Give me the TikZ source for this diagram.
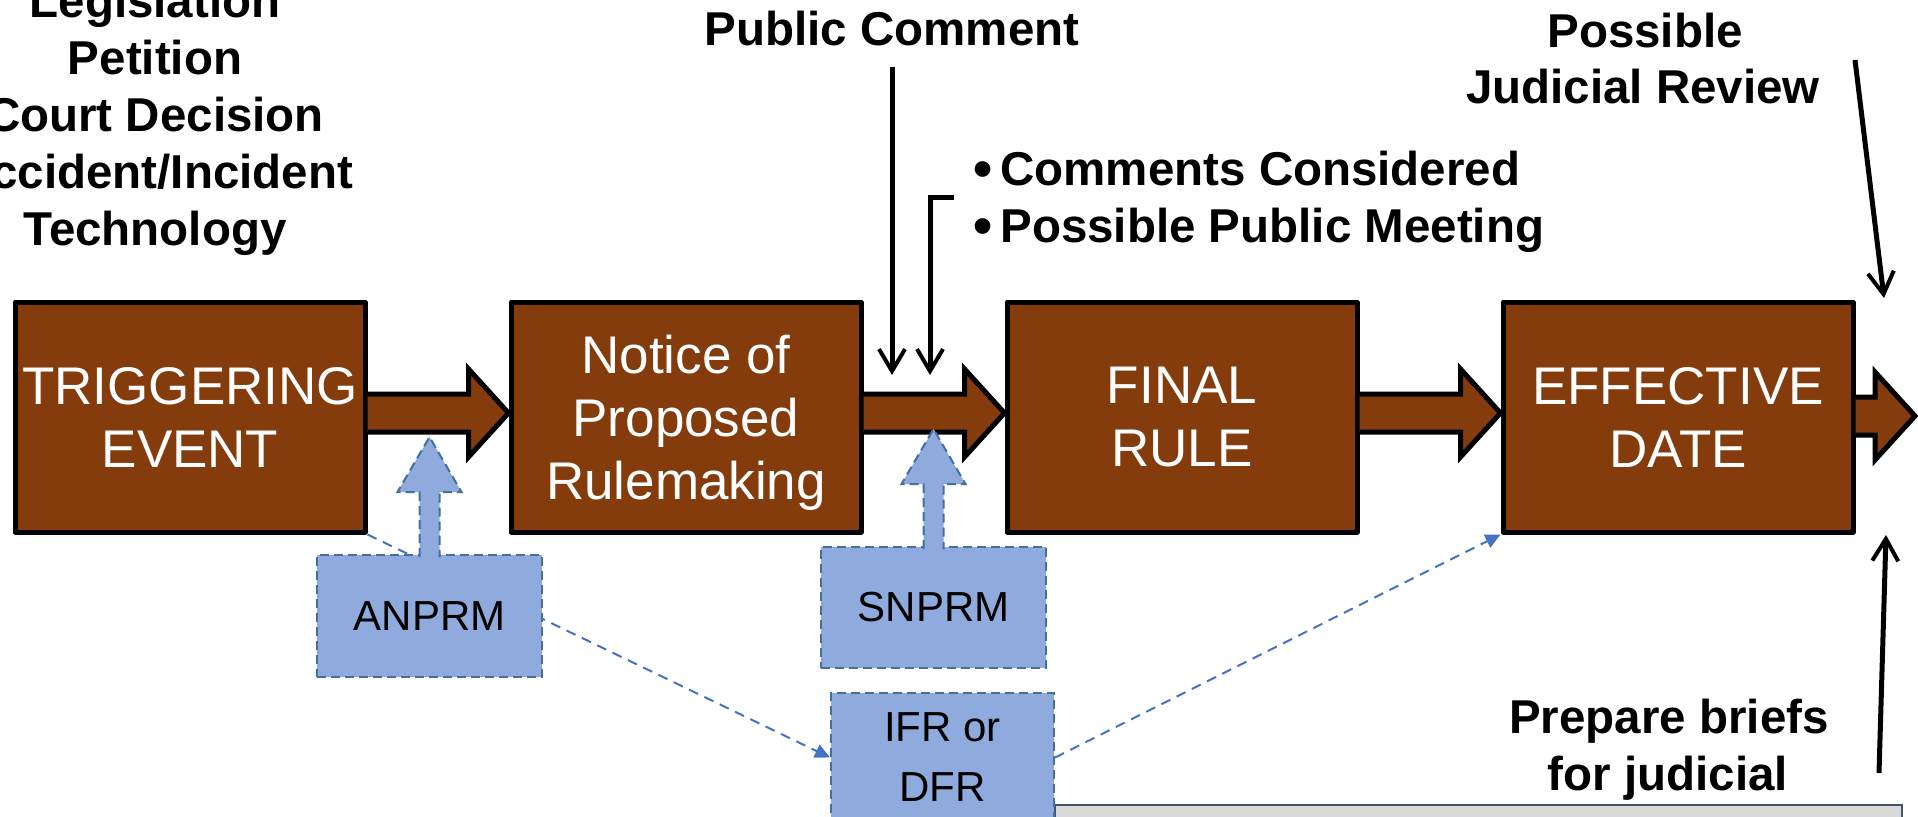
\documentclass[tikz,border=0pt]{standalone}
\usepackage{fontspec}
\setmainfont{Liberation Sans}
\usetikzlibrary{calc,arrows.meta}
\definecolor{brn}{HTML}{843C0C}
\definecolor{bfill}{HTML}{8FAADC}
\definecolor{bline}{HTML}{41719C}
\definecolor{dline}{HTML}{4472C4}
\definecolor{gfill}{HTML}{D9D9D9}
\definecolor{gline}{HTML}{44546A}
\newcommand\brarrow[3]{\draw[blockarrow] ($(#1.east)+(0,#3-19)$) -- ($(#2)+(-40,#3-19)$) -- ($(#2)+(-40,#3-44)$) -- ($(#2)+(0,#3)$) -- ($(#2)+(-40,#3+44)$) -- ($(#2)+(-40,#3+19)$) -- ($(#1.east)+(0,#3+19)$);}
\newcommand\upblue[1]{\draw[bluearrow] ($(#1.north)+(-10,3)$) -- ($(#1.north)+(-10,-62)$) -- ($(#1.north)+(-32,-62)$) -- ($(#1.north)+(0,-117)$) -- ($(#1.north)+(32,-62)$) -- ($(#1.north)+(10,-62)$) -- ($(#1.north)+(10,3)$);}
\begin{document}
\begin{tikzpicture}[x=0.5pt,y=-0.5pt,
 brownbox/.style={draw=black, line width=2.5pt, fill=brn, text=white, minimum width=175pt, minimum height=115pt, inner sep=0pt, align=center, font=\fontsize{26.5}{31.5}\selectfont, line join=round},
 blockarrow/.style={draw=black, line width=2.5pt, fill=brn, line join=miter},
 bluebox/.style={draw=bline, line width=1pt, dash pattern=on 4.5pt off 2.5pt, fill=bfill, inner sep=0pt, align=center, font=\fontsize{21}{30}\selectfont},
 bluearrow/.style={draw=bline, line width=1pt, dash pattern=on 4.5pt off 2.5pt, fill=bfill},
 txt/.style={font=\bfseries\fontsize{23.75}{28.5}\selectfont, inner sep=0pt, anchor=base},
 dconn/.style={draw=dline, line width=1pt, dash pattern=on 5pt off 3.5pt, -{Triangle[length=7.5pt,width=7pt]}},
 kconn/.style={draw=black, line width=2.5pt, -{Straight Barb[length=11pt,width=13pt,line width=2pt]}},
]
\useasboundingbox (0,0) rectangle (1918,816);
\clip (0,0) rectangle (1918,816);
% bottom grey bar
\path[draw=gline, fill=gfill, line width=1pt] (1055,805) rectangle (1902,840);
% main boxes
\node[brownbox] (trig) at (190,417) {TRIGGERING\\EVENT};
\node[brownbox, text depth=0pt] (nprm) at (686,417) {Notice of\\Proposed\\Rulemaking};
\node[brownbox] (final) at (1182,417) {FINAL\\RULE};
\node[brownbox] (eff) at (1678,417) {EFFECTIVE\\DATE};
% side boxes
\node[bluebox, minimum width=111.5pt, minimum height=64.5pt] (ifr) at (942.5,757.5) {IFR or\\DFR};
\node[bluebox, minimum width=112.5pt, minimum height=60.5pt] (snprm) at (933.5,607.5) {SNPRM};
% brown block arrows
\coordinate (tip4) at (1915,417);
\brarrow{trig}{nprm.west}{-4}
\brarrow{nprm}{final.west}{-4}
\brarrow{final}{eff.west}{-4}
\brarrow{eff}{tip4}{-1}
% dashed connectors
\draw[dconn] (trig.south east) -- (ifr.west);
\draw[dconn] (ifr.east) -- (eff.south west);
\node[bluebox, minimum width=112.5pt, minimum height=61pt] (anprm) at (429.5,616) {ANPRM};
\upblue{anprm}
\upblue{snprm}
% texts
\node[txt] (t1) at (155,17) {Legislation};
\node[txt] (t2) at (155,74) {Petition};
\node[txt] (t3) at (155,131) {Court Decision};
\node[txt] (t4) at (155,188) {Accident/Incident};
\node[txt] (t5) at (155,245) {Technology};
\node[txt] (pc) at (892,45) {Public Comment};
\node[txt, scale=1.15] (b1) at (983,187) {\textbullet};
\node[txt, anchor=base west] (c1) at (1000,185) {Comments Considered};
\node[txt, scale=1.15] (b2) at (983,244) {\textbullet};
\node[txt, anchor=base west] (c2) at (1000,242) {Possible Public Meeting};
\node[txt] (j1) at (1645,47) {Possible};
\node[txt] (j2) at (1643,103) {Judicial Review};
\node[txt] (p1) at (1669,733) {Prepare briefs};
\node[txt] (p2) at (1668,790) {for judicial};
% black arrows
\coordinate (pcA) at (892,67);
\coordinate (pcB) at (892,375);
\draw[kconn] (pcA) -- (pcB);
\coordinate (brA) at (954,197);
\coordinate (brB) at (930,197);
\coordinate (brC) at (930,375);
\draw[kconn] (brA) -- (brB) -- (brC);
\coordinate (jrA) at (1855,60);
\coordinate (jrB) at (1884,298);
\draw[kconn] (jrA) -- (jrB);
\coordinate (pbA) at (1879,773);
\coordinate (pbB) at (1886,535);
\draw[kconn] (pbA) -- (pbB);
\end{tikzpicture}
\end{document}
